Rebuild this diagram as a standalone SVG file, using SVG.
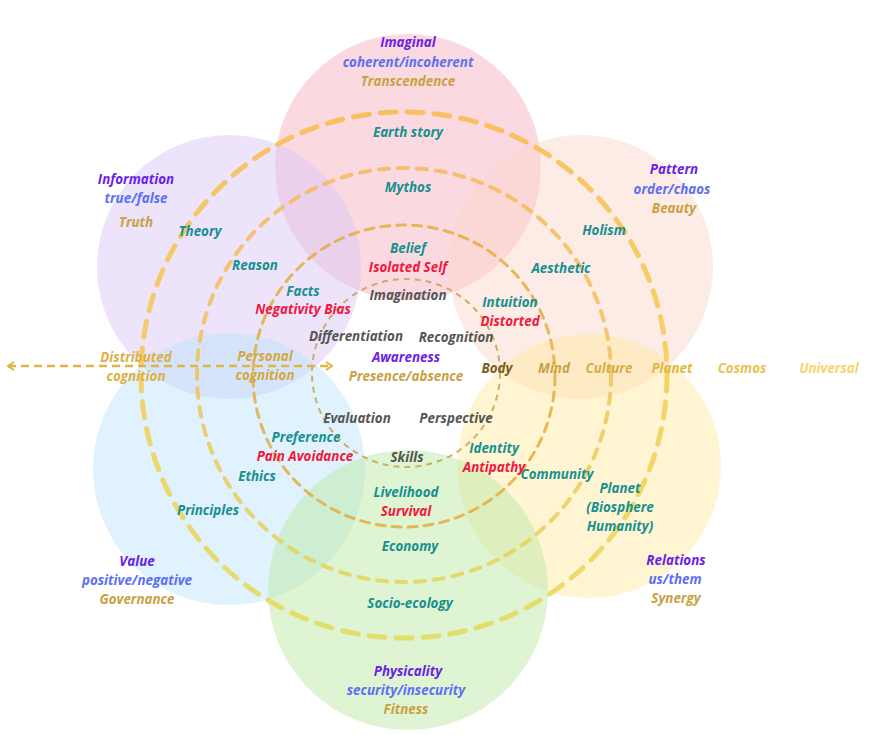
<svg xmlns="http://www.w3.org/2000/svg" width="873" height="742" viewBox="0 0 873 742">
<defs>
<linearGradient id="gOuter" x1="0" y1="0" x2="0" y2="1">
<stop offset="0" stop-color="#f8bb4a"/>
<stop offset="0.5" stop-color="#f5cc52"/>
<stop offset="1" stop-color="#e3da5a"/>
</linearGradient>
<linearGradient id="gSecond" x1="0" y1="0" x2="0" y2="1">
<stop offset="0" stop-color="#f6b95c"/>
<stop offset="0.5" stop-color="#f0c35a"/>
<stop offset="1" stop-color="#e4d45a"/>
</linearGradient>
<marker id="arrR" viewBox="0 0 10 10" refX="8" refY="5" markerWidth="4" markerHeight="4" orient="auto" markerUnits="strokeWidth">
<polyline points="2,1 8,5 2,9" fill="none" stroke="#e2b446" stroke-width="2"/>
</marker>
<marker id="arrL" viewBox="0 0 10 10" refX="2" refY="5" markerWidth="4" markerHeight="4" orient="auto" markerUnits="strokeWidth">
<polyline points="8,1 2,5 8,9" fill="none" stroke="#e2b446" stroke-width="2"/>
</marker>
</defs>
<style>
text{font-family:"Open Sans","Noto Sans","Liberation Sans",sans-serif;font-size:13.4px;font-weight:bold;font-style:italic;text-anchor:middle}
.p{fill:#6a22e6}.b{fill:#5d70f2}.g{fill:#c9a143}.t{fill:#17908f}.r{fill:#f0183e}.k{fill:#555555}
.petal{opacity:0.5}
.ring{fill:none;opacity:0.85}
</style>
<g id="petals">
<circle id="imaginal" class="petal" cx="408" cy="167" r="133" fill="#f8b4c2"/>
<circle id="information" class="petal" cx="229" cy="267" r="132" fill="#dcc8f7"/>
<circle id="pattern" class="petal" cx="581" cy="267" r="132" fill="#fbd8cc"/>
<circle id="value" class="petal" cx="229" cy="469" r="136" fill="#c0e6fb"/>
<circle id="relations" class="petal" cx="589" cy="466" r="132" fill="#ffeca8"/>
<circle id="physicality" class="petal" cx="408" cy="590" r="140" fill="#bdeaa8"/>
</g>
<g id="connectors">
<circle class="ring" cx="404" cy="375" r="263" stroke="url(#gOuter)" stroke-width="5" stroke-dasharray="16 11" stroke-linecap="round"/>
<circle class="ring" cx="404" cy="375" r="207" stroke="url(#gSecond)" stroke-width="4" stroke-dasharray="10 9" stroke-linecap="round"/>
<circle class="ring" cx="404" cy="376" r="151" stroke="#e4ad3e" stroke-width="3" stroke-dasharray="9 7" stroke-linecap="round"/>
<circle class="ring" cx="406" cy="373" r="94" stroke="#c9a24a" stroke-width="2" stroke-dasharray="6 5"/>
<line x1="8" y1="366" x2="332" y2="366" stroke="#e2b446" stroke-width="2.5" stroke-dasharray="8 5" marker-start="url(#arrL)" marker-end="url(#arrR)"/>
</g>
<g id="labels">
<text x="408" y="47" class="p">Imaginal</text>
<text x="408" y="67" class="b">coherent/incoherent</text>
<text x="408" y="86" class="g">Transcendence</text>
<text x="408" y="137" class="t">Earth story</text>
<text x="408" y="192" class="t">Mythos</text>
<text x="408" y="253" class="t">Belief</text>
<text x="408" y="272" class="r">Isolated Self</text>
<text x="408" y="300" class="k">Imagination</text>
<text x="356" y="341" class="k">Differentiation</text>
<text x="456" y="342" class="k">Recognition</text>
<text x="406" y="362" class="p">Awareness</text>
<text x="406" y="381" class="g">Presence/absence</text>
<text x="497" y="373" style="fill:#7a5c1c">Body</text>
<text x="554" y="373" style="fill:#c9a143">Mind</text>
<text x="609" y="373" style="fill:#d6ae45">Culture</text>
<text x="672" y="373" style="fill:#e0b747">Planet</text>
<text x="742" y="373" style="fill:#ebc250">Cosmos</text>
<text x="829" y="373" style="fill:#f7d46e">Universal</text>
<text x="136" y="362" style="fill:#dcb046">Distributed</text>
<text x="136" y="381" style="fill:#dcb046">cognition</text>
<text x="265" y="361" style="fill:#d2a83e">Personal</text>
<text x="265" y="380" style="fill:#d2a83e">cognition</text>
<text x="136" y="184" class="p">Information</text>
<text x="136" y="203" class="b">true/false</text>
<text x="136" y="227" class="g">Truth</text>
<text x="200" y="236" class="t">Theory</text>
<text x="255" y="270" class="t">Reason</text>
<text x="303" y="296" class="t">Facts</text>
<text x="303" y="314" class="r">Negativity Bias</text>
<text x="674" y="174" class="p">Pattern</text>
<text x="672" y="194" class="b">order/chaos</text>
<text x="674" y="213" class="g">Beauty</text>
<text x="604" y="235" class="t">Holism</text>
<text x="561" y="273" class="t">Aesthetic</text>
<text x="510" y="307" class="t">Intuition</text>
<text x="510" y="326" class="r">Distorted</text>
<text x="357" y="423" class="k">Evaluation</text>
<text x="456" y="423" class="k">Perspective</text>
<text x="306" y="442" class="t">Preference</text>
<text x="305" y="461" class="r">Pain Avoidance</text>
<text x="257" y="481" class="t">Ethics</text>
<text x="208" y="515" class="t">Principles</text>
<text x="407" y="462" class="k">Skills</text>
<text x="494" y="453" class="t">Identity</text>
<text x="494" y="472" class="r">Antipathy</text>
<text x="557" y="479" class="t">Community</text>
<text x="406" y="497" class="t">Livelihood</text>
<text x="406" y="516" class="r">Survival</text>
<text x="620" y="493" class="t">Planet</text>
<text x="620" y="512" class="t">(Biosphere</text>
<text x="620" y="531" class="t">Humanity)</text>
<text x="410" y="551" class="t">Economy</text>
<text x="410" y="608" class="t">Socio-ecology</text>
<text x="137" y="566" class="p">Value</text>
<text x="137" y="585" class="b">positive/negative</text>
<text x="137" y="604" class="g">Governance</text>
<text x="676" y="565" class="p">Relations</text>
<text x="675" y="584" class="b">us/them</text>
<text x="676" y="603" class="g">Synergy</text>
<text x="408" y="676" class="p">Physicality</text>
<text x="406" y="695" class="b">security/insecurity</text>
<text x="406" y="714" class="g">Fitness</text>
</g>
</svg>
